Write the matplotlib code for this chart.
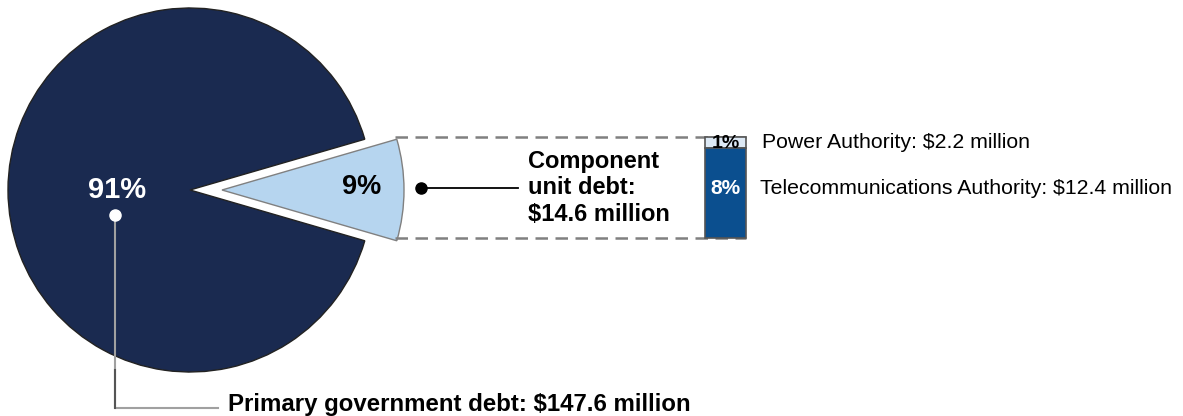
import numpy as np
import matplotlib.pyplot as plt

plt.rcParams['font.family'] = ['Liberation Sans', 'DejaVu Sans']

# pie shares (percent of total debt)
pie_labels = ["Primary government debt", "Component unit debt"]
pie_values = [91, 9]
pie_amounts = ["$147.6 million", "$14.6 million"]

# breakdown of component unit debt
comp_names = ["Telecommunications Authority", "Power Authority"]
comp_values = [8, 1]
comp_amounts = ["$12.4 million", "$2.2 million"]

navy = "#1a2a50"
light = "#b6d5ef"
bar_blue = "#0b4f8f"
bar_light = "#dde9f5"

fig = plt.figure(figsize=(11.83, 4.16), dpi=100)
ax = fig.add_axes([0, 0, 1, 1])

cx, cy, r = 190, 190, 182
off = 32
half = pie_values[1] / 100 * 180  # half angle of small slice
wedges, _ = ax.pie(pie_values, colors=[navy, light], startangle=half,
                   center=(cx, cy), radius=r, explode=[0, off],
                   wedgeprops=dict(linewidth=1))
wedges[0].set_edgecolor("#222222")
wedges[1].set_edgecolor("#808080")

ax.set_xlim(0, 1183)
ax.set_ylim(416, 0)
ax.set_aspect("auto")
ax.axis("off")

# corners of small slice
xc = cx + off + r * np.cos(np.radians(half))
ytop = cy - r * np.sin(np.radians(half)) - 2
ybot = cy + r * np.sin(np.radians(half)) - 3

# stacked bar
bx, bw = 725.5, 41
bar_h = ybot - ytop
scale = bar_h / sum(comp_values)
h8 = comp_values[0] * scale
h1 = comp_values[1] * scale
ax.bar(bx, h1, width=bw, bottom=ytop, color=bar_light, edgecolor="#555555",
       linewidth=1.2, zorder=3)
ax.bar(bx, h8, width=bw, bottom=ytop + h1, color=bar_blue, edgecolor="#555555",
       linewidth=1.2, zorder=3)

# dashed connectors
for yy in (ytop, ybot):
    ax.plot([xc - 2, bx + bw / 2], [yy, yy], color="#808080", lw=1.8,
            ls=(0, (5, 3)), zorder=2)

# percent labels
ax.text(117, 190, f"{pie_values[0]}%", color="white", fontsize=21,
        fontweight="bold", ha="center", va="center")
ax.text(362, 187, f"{pie_values[1]}%", color="black", fontsize=19.5,
        fontweight="bold", ha="center", va="center")
ax.text(bx, 188, f"{comp_values[0]}%", color="white", fontsize=15,
        fontweight="bold", ha="center", va="center", zorder=4)
ax.text(bx, ytop + h1 / 2 + 1, f"{comp_values[1]}%", color="black", fontsize=14,
        fontweight="bold", ha="center", va="center", zorder=4)

# primary government callout
ax.plot([115, 115, 218], [215, 408, 408], color="#a0a0a0", lw=1.5)
ax.plot([115, 115], [370, 408], color="#555555", lw=1.5)
ax.plot(115, 215, "o", color="white", ms=8)
ax.text(228, 405, f"{pie_labels[0]}: {pie_amounts[0]}", fontsize=17.25,
        fontweight="bold", ha="left", va="center")

# component unit callout
ax.plot([421, 518], [188, 188], color="black", lw=1.3)
ax.plot(421, 188, "o", color="black", ms=8)
ax.text(528, 188, "Component\nunit debt:\n" + pie_amounts[1], fontsize=17,
        fontweight="bold", ha="left", va="center", linespacing=1.2)

# component names
ax.text(762, 142, f"{comp_names[1]}: {comp_amounts[1]}", fontsize=15.3,
        ha="left", va="center")
ax.text(760, 188, f"{comp_names[0]}: {comp_amounts[0]}", fontsize=15.3,
        ha="left", va="center")

fig.savefig("out.png", dpi=100)
